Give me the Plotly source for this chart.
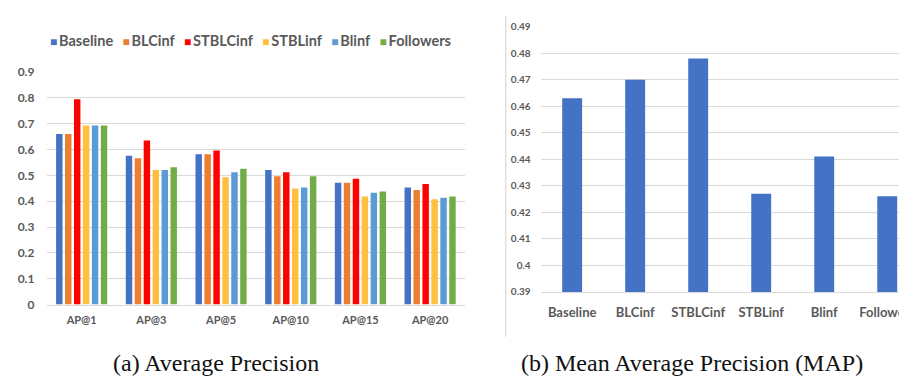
import plotly.graph_objects as go

# ---- data ----
ap_categories = ["AP@1", "AP@3", "AP@5", "AP@10", "AP@15", "AP@20"]
series_names = ["Baseline", "BLCinf", "STBLCinf", "STBLinf", "Blinf", "Followers"]
baseline = [0.66, 0.576, 0.582, 0.521, 0.471, 0.453]
blcinf = [0.66, 0.566, 0.582, 0.497, 0.471, 0.443]
stblcinf = [0.795, 0.635, 0.596, 0.512, 0.487, 0.467]
stblinf = [0.693, 0.521, 0.493, 0.449, 0.418, 0.408]
blinf = [0.693, 0.521, 0.512, 0.453, 0.433, 0.413]
followers = [0.693, 0.531, 0.526, 0.497, 0.438, 0.418]
ap_values = [baseline, blcinf, stblcinf, stblinf, blinf, followers]

map_categories = ["Baseline", "BLCinf", "STBLCinf", "STBLinf", "Blinf", "Followers"]
map_values = [0.463, 0.470, 0.478, 0.427, 0.441, 0.426]

ap_ticks = [0, 0.1, 0.2, 0.3, 0.4, 0.5, 0.6, 0.7, 0.8, 0.9]
ap_ticktext = ["0", "0.1", "0.2", "0.3", "0.4", "0.5", "0.6", "0.7", "0.8", "0.9"]
map_ticks = [0.39, 0.40, 0.41, 0.42, 0.43, 0.44, 0.45, 0.46, 0.47, 0.48, 0.49]
map_ticktext = ["0.39", "0.4", "0.41", "0.42", "0.43", "0.44", "0.45", "0.46", "0.47", "0.48", "0.49"]

# ---- styles ----
colors = ["#4472C4", "#ED7D31", "#FF0000", "#FFBF3F", "#5B9BD5", "#70AD47"]
W, H = 907, 378
LABEL = "#595959"
GRID = "#D9D9D9"
FONT = "Lato"

fig = go.Figure()
for name, vals, col in zip(series_names, ap_values, colors):
    fig.add_trace(go.Bar(x=ap_categories, y=vals, name=name, marker_color=col,
                         marker_line_width=0, xaxis="x", yaxis="y", showlegend=False))

fig.add_trace(go.Bar(x=map_categories, y=map_values, marker_color="#4472C4",
                     marker_line_width=0, width=0.316, xaxis="x2", yaxis="y2",
                     showlegend=False))

def px_x(p):
    return p / W

def px_y(p):
    return (H - p) / H

# legend as colored squares in one annotation
legend_html = "&nbsp;&nbsp;&#8201;".join(
    f"<span style='color:{c};font-size:12px'>■</span>&#8201;<b>{n}</b>"
    for n, c in zip(series_names, colors)
)

fig.update_layout(
    width=W, height=H,
    margin=dict(l=0, r=0, t=0, b=0),
    paper_bgcolor="white", plot_bgcolor="white",
    barmode="group", bargap=0.23, bargroupgap=0.28,
    font=dict(family=FONT, color=LABEL),
    xaxis=dict(domain=[px_x(39), px_x(459)], range=[-0.5, 5.5], anchor="y",
               showgrid=False, showline=True, linecolor=GRID, linewidth=1,
               ticks="outside", ticklen=5, tickcolor="rgba(0,0,0,0)",
               tickfont=dict(family=FONT, size=11, color=LABEL, weight="bold")),
    yaxis=dict(domain=[px_y(300.5), px_y(58.3)], range=[0, 0.9], anchor="x",
               tickvals=ap_ticks, ticktext=ap_ticktext, showgrid=True,
               gridcolor=GRID, gridwidth=1, zeroline=False, showline=False,
               ticks="outside", ticklen=9, tickcolor="rgba(0,0,0,0)",
               tickfont=dict(family=FONT, size=12, color=LABEL, weight="bold")),
    xaxis2=dict(domain=[px_x(535), 1.0], range=[-0.5, 5.377], anchor="y2",
                showgrid=False, showline=True, linecolor=GRID, linewidth=1,
                ticks="outside", ticklen=9, tickcolor="rgba(0,0,0,0)",
                tickfont=dict(family=FONT, size=13, color=LABEL, weight="bold")),
    yaxis2=dict(domain=[px_y(287.3), px_y(11)], range=[0.39, 0.49], anchor="x2",
                tickvals=map_ticks, ticktext=map_ticktext, showgrid=True,
                gridcolor=GRID, gridwidth=1, zeroline=False, showline=False,
                ticks="outside", ticklen=7, tickcolor="rgba(0,0,0,0)",
                tickfont=dict(family=FONT, size=10, color=LABEL, weight="bold")),
    shapes=[dict(type="line", xref="paper", yref="paper",
                 x0=px_x(500), x1=px_x(500), y0=px_y(334), y1=1.0,
                 line=dict(color="#D0D0D0", width=1))],
    annotations=[
        dict(text=legend_html, xref="paper", yref="paper", x=px_x(244), y=px_y(25),
             xanchor="center", yanchor="middle", showarrow=False,
             font=dict(family=FONT, size=14.5, color=LABEL)),
        dict(text="(a) Average Precision", xref="paper", yref="paper",
             x=px_x(209), y=px_y(361), xanchor="center", yanchor="middle",
             showarrow=False, font=dict(family="Liberation Serif", size=24, color="#111111")),
        dict(text="(b) Mean Average Precision (MAP)", xref="paper", yref="paper",
             x=px_x(687), y=px_y(361), xanchor="center", yanchor="middle",
             showarrow=False, font=dict(family="Liberation Serif", size=24, color="#111111")),
    ],
)

fig.write_html("out.html")
